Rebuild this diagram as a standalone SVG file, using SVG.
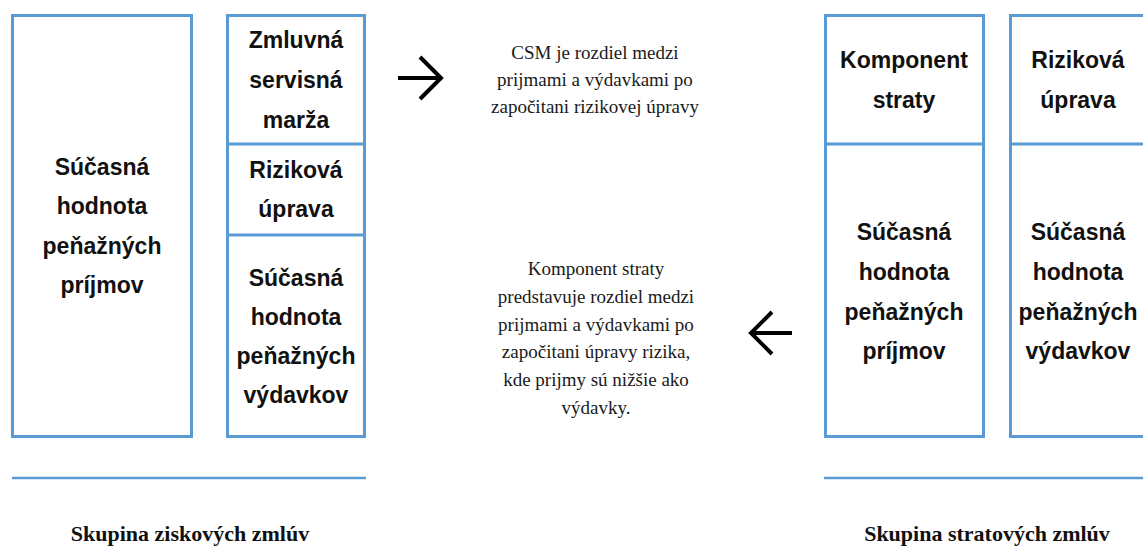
<svg xmlns="http://www.w3.org/2000/svg" width="1143" height="548" viewBox="0 0 1143 548">
  <style>
    .box { fill: #ffffff; stroke: #5b9bd5; stroke-width: 3; }
    .div { stroke: #5b9bd5; stroke-width: 3; fill: none; }
    .rule { stroke: #5b9bd5; stroke-width: 2.5; fill: none; }
    .lbl { font-family: "Liberation Sans", Arial, sans-serif; font-weight: bold; font-size: 23px; fill: #111111; text-anchor: middle; }
    .note { font-family: "Liberation Serif", "Times New Roman", serif; font-size: 19px; fill: #1a1a1a; text-anchor: middle; }
    .cap { font-family: "Liberation Serif", "Times New Roman", serif; font-weight: bold; font-size: 22px; fill: #111111; text-anchor: middle; }
    .arrow { stroke: #000000; stroke-width: 4; fill: none; stroke-linecap: butt; stroke-linejoin: miter; }
  </style>

  <rect width="1143" height="548" fill="#ffffff"/>

  <!-- Profitable group: present value of cash inflows -->
  <g id="zisk-prijmy">
    <rect class="box" x="12.5" y="15.5" width="179" height="421"/>
    <text class="lbl" x="102" y="175">Súčasná</text>
    <text class="lbl" x="102" y="214">hodnota</text>
    <text class="lbl" x="102" y="254">peňažných</text>
    <text class="lbl" x="102" y="293">príjmov</text>
  </g>

  <!-- Profitable group: stacked column -->
  <g id="zisk-stlpec">
    <rect class="box" x="227.5" y="15.5" width="137" height="421"/>
  </g>
  <g id="zisk-csm">
    <text class="lbl" x="296" y="48">Zmluvná</text>
    <text class="lbl" x="296" y="88">servisná</text>
    <text class="lbl" x="296" y="128">marža</text>
  </g>
  <g id="zisk-riziko">
    <line class="div" x1="227.5" y1="144" x2="364.5" y2="144"/>
    <text class="lbl" x="296" y="178">Riziková</text>
    <text class="lbl" x="296" y="217">úprava</text>
  </g>
  <g id="zisk-vydavky">
    <line class="div" x1="227.5" y1="235" x2="364.5" y2="235"/>
    <text class="lbl" x="296" y="286">Súčasná</text>
    <text class="lbl" x="296" y="325">hodnota</text>
    <text class="lbl" x="296" y="364">peňažných</text>
    <text class="lbl" x="296" y="403">výdavkov</text>
  </g>

  <!-- Loss-making group: left column -->
  <g id="strata-stlpec">
    <rect class="box" x="825.5" y="15.5" width="158" height="421"/>
    <line class="div" x1="825.5" y1="144" x2="983.5" y2="144"/>
  </g>
  <g id="strata-komponent">
    <text class="lbl" x="904" y="68">Komponent</text>
    <text class="lbl" x="904" y="108">straty</text>
  </g>
  <g id="strata-prijmy">
    <text class="lbl" x="904" y="240">Súčasná</text>
    <text class="lbl" x="904" y="280">hodnota</text>
    <text class="lbl" x="904" y="320">peňažných</text>
    <text class="lbl" x="904" y="359">príjmov</text>
  </g>

  <!-- Loss-making group: right column -->
  <g id="strata-stlpec2">
    <rect class="box" x="1010.5" y="15.5" width="140" height="421"/>
    <line class="div" x1="1010.5" y1="144" x2="1150" y2="144"/>
  </g>
  <g id="strata-riziko">
    <text class="lbl" x="1078" y="68">Riziková</text>
    <text class="lbl" x="1078" y="108">úprava</text>
  </g>
  <g id="strata-vydavky">
    <text class="lbl" x="1078" y="240">Súčasná</text>
    <text class="lbl" x="1078" y="280">hodnota</text>
    <text class="lbl" x="1078" y="320">peňažných</text>
    <text class="lbl" x="1078" y="359">výdavkov</text>
  </g>

  <!-- Explanatory notes -->
  <g id="popis-csm">
    <text class="note" x="595" y="59">CSM je rozdiel medzi</text>
    <text class="note" x="595" y="86">prijmami a výdavkami po</text>
    <text class="note" x="595" y="113">započitani rizikovej úpravy</text>
  </g>
  <g id="popis-strata">
    <text class="note" x="596" y="275">Komponent straty</text>
    <text class="note" x="596" y="303">predstavuje rozdiel medzi</text>
    <text class="note" x="596" y="331">prijmami a výdavkami po</text>
    <text class="note" x="596" y="358">započitani úpravy rizika,</text>
    <text class="note" x="596" y="386">kde prijmy sú nižšie ako</text>
    <text class="note" x="596" y="414">výdavky.</text>
  </g>

  <!-- Connectors -->
  <g id="spojnice">
    <path class="arrow" d="M398 78 H441 M420 57 L441 78 L420 99"/>
    <path class="arrow" d="M792 333 H751 M772 312 L751 333 L772 354"/>
  </g>

  <!-- Group captions -->
  <g id="skupina-zisk">
    <line class="rule" x1="12" y1="478" x2="366" y2="478"/>
    <text class="cap" x="190" y="541">Skupina ziskových zmlúv</text>
  </g>
  <g id="skupina-strata">
    <line class="rule" x1="824" y1="478" x2="1143" y2="478"/>
    <text class="cap" x="987" y="541">Skupina stratových zmlúv</text>
  </g>
</svg>
